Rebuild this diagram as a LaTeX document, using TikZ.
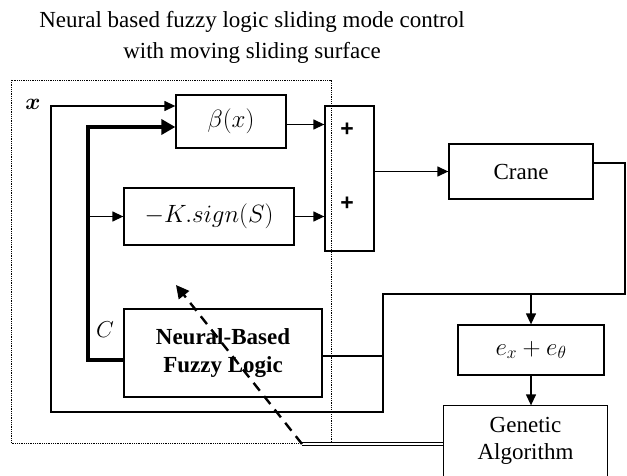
\documentclass[tikz,border=0pt]{standalone}
\usepackage{fix-cm}
\usepackage{bm}
\usepackage{fontspec}
\setmainfont{Liberation Serif}
\setsansfont{Liberation Sans}
\usetikzlibrary{arrows.meta}
\begin{document}
\begin{tikzpicture}[x=1pt,y=-1pt,
  box/.style={draw, line width=1.3pt, inner sep=0pt, font=\fontsize{23}{27}\selectfont, align=center},
  mth/.style={font=\fontsize{25}{28}\selectfont},
  arr/.style={-{Triangle[length=11pt,width=10pt]}, line width=1.3pt},
  ln/.style={line width=1.3pt},
  plus/.style={inner sep=0pt, font=\sffamily\bfseries\fontsize{23}{24}\selectfont},
  thickarr/.style={line width=4.6pt, line join=miter, -{Triangle[length=14pt,width=15pt]}},
  dasharr/.style={line width=2.4pt, dash pattern=on 10pt off 7pt, -{Triangle[length=13pt,width=13pt]}},
  lbl/.style={inner sep=0pt, font=\fontsize{23}{26}\selectfont}]
\useasboundingbox (0,0) rectangle (627,476);

% title
\node[font=\fontsize{23}{31}\selectfont, align=center] (title) at (252,37) {Neural based fuzzy logic sliding mode control\\with moving sliding surface};

% dotted frame
\draw[densely dotted, line width=0.8pt] (11,80) rectangle (331,443);

% blocks
\node[box, mth, minimum width=110, minimum height=53] (beta) at (231,121.5) {$\beta(x)$};
\node[box, mth, minimum width=170, minimum height=57] (K) at (209,216.5) {$-K.sign(S)$};
\node[box, minimum width=49, minimum height=145] (sum) at (349.5,178.5) {};
\node[plus] (p1) at (347,130) {+};
\node[plus] (p2) at (347,204) {+};
\node[box, minimum width=144, minimum height=55] (crane) at (521,171.5) {Crane};
\node[box, minimum width=198, minimum height=88, font=\bfseries\fontsize{23}{28}\selectfont] (nfl) at (223,353) {Neural-Based\\Fuzzy Logic};
\node[box, mth, minimum width=146, minimum height=50] (err) at (531,350) {$e_x+e_\theta$};
\node[box, draw=none, minimum width=163, minimum height=70] (ga) at (525.5,441) {Genetic\\Algorithm};
\draw[ln] ([yshift=-20pt]ga.south west) -- (ga.north west) -- (ga.north east) -- ([yshift=-20pt]ga.south east);

% labels
\node[lbl] (xl) at (33,104) {$\bm{x}$};
\node[lbl] (cl) at (105,330) {$C$};

% coordinates for routing
\coordinate (xs) at (51,106);
\coordinate (fbr) at (625,163);
\coordinate (fbd) at (625,294);
\coordinate (fbm) at (383,294);
\coordinate (fbb) at (383,412);
\coordinate (fbl) at (51,412);
\coordinate (tk) at (88,127);
\coordinate (dj) at (302,444);
\coordinate (dt) at (176,285);

% feedback loop from crane to beta
\draw[arr] ([yshift=8.5pt]crane.east) -- (fbr) -- (fbd) -- (fbm) -- (fbb) -- (fbl) -- (xs) -- (xs -| beta.west);
% branch into error block
\draw[arr] (fbm -| err.north) -- (err.north);
\draw[arr] (err.south) -- (err.south |- ga.north);
% NFL output to loop
\draw[ln] ([yshift=-3pt]nfl.east) -- ([yshift=-3pt]nfl.east -| fbm);
% thick C line
\draw[thickarr] ([yshift=-7pt]nfl.west) -| (tk) -- (tk -| beta.west);
\draw[arr] (tk |- K.west) -- (K.west);
% into summation
\draw[arr] ([yshift=-3pt]beta.east) -- ([yshift=-3pt]beta.east -| sum.west);
\draw[arr] (K.east) -- (K.east -| sum.west);
\draw[arr] (sum.east |- crane.west) -- (crane.west);
% GA back to NFL
\draw[double, double distance=1.6pt, line width=1.2pt] (ga.west |- dj) -- (dj);
\draw[dasharr] (dj) -- (dt);
\end{tikzpicture}
\end{document}
